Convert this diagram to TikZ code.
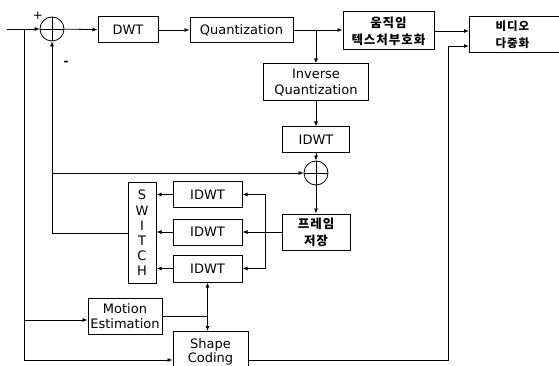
\documentclass[tikz,border=0pt]{standalone}
\usepackage{fontspec}
\setmainfont{DejaVu Sans}
\newfontfamily\kr{Noto Sans CJK KR}[LetterSpace=8]
\usepackage{tikz}
\usetikzlibrary{arrows.meta, calc}

\begin{document}
\begin{tikzpicture}[x=1pt, y=-1pt, >={Latex[length=5pt, width=4pt]}, line width=0.8pt,
    block/.style={draw, line width=1pt, inner sep=0pt, align=center, font=\fontsize{13}{15.5}\selectfont},
    krblock/.style={block, font=\kr\bfseries\fontsize{12.5}{17}\selectfont},
    sum/.style={draw, circle, minimum size=24pt, inner sep=0pt,
      path picture={\draw (path picture bounding box.north) -- (path picture bounding box.south)
        (path picture bounding box.west) -- (path picture bounding box.east);}}]
    \useasboundingbox (0,0) rectangle (559,366);

    % Forward path
    \node[sum] (sumA) at (52,29) {};
    \node[font=\fontsize{12}{12}\selectfont] (plusA) at (38,16) {+};
    \node[font=\bfseries\fontsize{12}{12}\selectfont] (minusA) at (66,63) {-};
    \node[block, minimum width=60pt, minimum height=26pt] (dwt) at (128,30) {DWT};
    \node[block, minimum width=103pt, minimum height=25pt] (quant) at (241.5,30) {Quantization};
    \node[krblock, minimum width=91pt, minimum height=38pt] (mtc) at (388.5,31) {움직임\\텍스처부호화};
    \node[krblock, font=\kr\bfseries\fontsize{11.5}{17}\selectfont, anchor=west, text width=84pt, inner xsep=26pt,
      align=left, minimum height=36pt] (mux) at (469,35) {비디오\\다중화};

    % Reconstruction
    \node[block, minimum width=105pt, minimum height=37pt] (invq) at (316,82.5) {Inverse\\Quantization};
    \node[block, minimum width=67pt, minimum height=26pt] (idwt) at (316,140) {IDWT};
    \node[sum] (sumB) at (316,173) {};
    \node[krblock, minimum width=68pt, minimum height=36pt] (store) at (316,232) {프레임\\저장};

    % Switch bank
    \node[block, minimum width=69pt, minimum height=25pt] (idwtA) at (207.5,194.5) {IDWT};
    \node[block, minimum width=69pt, minimum height=26pt] (idwtB) at (207.5,232) {IDWT};
    \node[block, minimum width=69pt, minimum height=27pt] (idwtC) at (207.5,268.5) {IDWT};
    \node[block, minimum width=28pt, minimum height=100pt, font=\fontsize{13}{15.2}\selectfont] (sw) at (142,233) {S\\W\\I\\T\\C\\H};

    % Motion and shape
    \node[block, minimum width=74pt, minimum height=36pt] (me) at (125,316) {Motion\\Estimation};
    \node[block, minimum width=75pt, minimum height=41pt, font=\fontsize{13}{14.5}\selectfont] (shape) at (210.5,352) {Shape\\Coding};

    % Connectors
    \coordinate (in) at (7,29);
    \coordinate (tapL) at (24,29);
    \draw[->] (in) -- (sumA);
    \draw[->] (sumA) -- (dwt);
    \draw[->] (dwt) -- (quant);
    \draw[->] (quant) -- (mtc.west |- quant);
    \coordinate (tapQ) at (invq.north |- quant.east);
    \draw[->] (tapQ) -- (invq);
    \draw[->] (mtc) -- (mtc -| mux.west);
    \draw[->] (invq) -- (idwt);
    \draw[->] (idwt) -- (sumB);
    \draw[->] (sumB) -- (store);

    \draw[->] (tapL) |- ($(me.west)+(0,4)$);
    \draw[->] (tapL) |- ($(shape.west)+(0,8)$);

    \draw[->] (sw.west) -| (sumA.south);
    \coordinate (tapS) at (sumA.south |- sumB.west);
    \draw[->] (tapS) -- (sumB);

    \coordinate (bus) at ($(idwtA.east)+(23,0)$);
    \draw[->] (store) -- (idwtB);
    \draw[->] (bus) -- (idwtA);
    \draw[->] (bus) |- (idwtC);
    \foreach \n in {idwtA, idwtB, idwtC}
      \draw[->] (\n) -- (\n -| sw.east);

    \coordinate (jn) at (idwtC.south |- me.east);
    \draw (me) -- (jn);
    \draw[->] (jn) -- (idwtC);
    \draw[->] (jn) -- (jn |- shape.north);

    \coordinate (muxin) at ($(mux.west)+(0,11)$);
    \draw[->] ($(shape.east)+(0,8)$) -- ++(200,0) |- (muxin);
\end{tikzpicture}
\end{document}
